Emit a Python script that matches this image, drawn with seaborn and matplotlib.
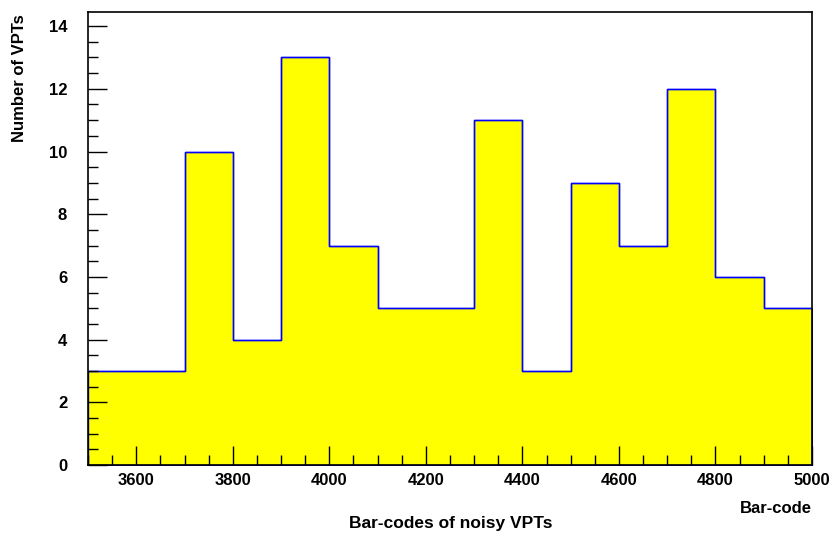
import numpy as np
import pandas as pd
import matplotlib
matplotlib.use('Agg')
import matplotlib.pyplot as plt
from matplotlib.ticker import MultipleLocator
import seaborn as sns

# histogram contents: bins of width 100 from 3500 to 5000
bin_edges = [3500, 3600, 3700, 3800, 3900, 4000, 4100, 4200, 4300,
             4400, 4500, 4600, 4700, 4800, 4900, 5000]
counts = [3, 3, 10, 4, 13, 7, 5, 5, 11, 3, 9, 7, 12, 6, 5]

centers = [(a + b) / 2 for a, b in zip(bin_edges[:-1], bin_edges[1:])]
df = pd.DataFrame({'barcode': centers, 'n': counts})

sns.set_style('white')
plt.rcParams['font.family'] = ['Liberation Sans', 'DejaVu Sans']
plt.rcParams['font.weight'] = 'bold'
plt.rcParams['text.color'] = 'black'
plt.rcParams['xtick.color'] = 'black'
plt.rcParams['ytick.color'] = 'black'
plt.rcParams['axes.labelcolor'] = 'black'

FS = 12

fig = plt.figure(figsize=(8.34, 5.39), dpi=100)
ax = fig.add_axes([0.1055, 0.1373, 0.8681, 0.8404])

sns.histplot(data=df, x='barcode', weights='n', bins=bin_edges,
             element='step', fill=True, color='#ffff00', alpha=1.0,
             edgecolor='#0000ff', linewidth=1.0, ax=ax)
# step outline in blue on top
ax.stairs(counts, bin_edges, color='#0000ff', linewidth=1.0, baseline=None)
ax.set_axisbelow(False)

ax.set_xlim(3500, 5000)
ax.set_ylim(0, 14.45)

ax.xaxis.set_major_locator(MultipleLocator(200))
ax.xaxis.set_minor_locator(MultipleLocator(50))
ax.yaxis.set_major_locator(MultipleLocator(2))
ax.yaxis.set_minor_locator(MultipleLocator(0.5))
ax.tick_params(which='both', direction='in', bottom=True, left=True,
               top=False, right=False, labelsize=FS, color='black',
               labelcolor='black', width=1)
ax.tick_params(which='major', length=14)
ax.tick_params(which='minor', length=7)
ax.tick_params(axis='x', which='major', pad=6)
ax.tick_params(axis='y', which='major', pad=15)
for lbl in ax.get_xticklabels() + ax.get_yticklabels():
    lbl.set_fontweight('bold')

for s in ax.spines.values():
    s.set_visible(True)
    s.set_color('black')
    s.set_linewidth(1.2)

ax.set_xlabel('')
ax.set_ylabel('Number of VPTs', fontsize=FS, fontweight='bold', color='black')
ax.yaxis.set_label_coords(-0.084, 0.855)

ax.text(1.0, -0.097, 'Bar-code', transform=ax.transAxes, ha='right', va='center',
        fontsize=FS, fontweight='bold', color='black')
fig.text(0.541, 0.028, 'Bar-codes of noisy VPTs', ha='center', va='center',
         fontsize=12.5, fontweight='bold', color='black')

fig.savefig('out.png', dpi=100)
